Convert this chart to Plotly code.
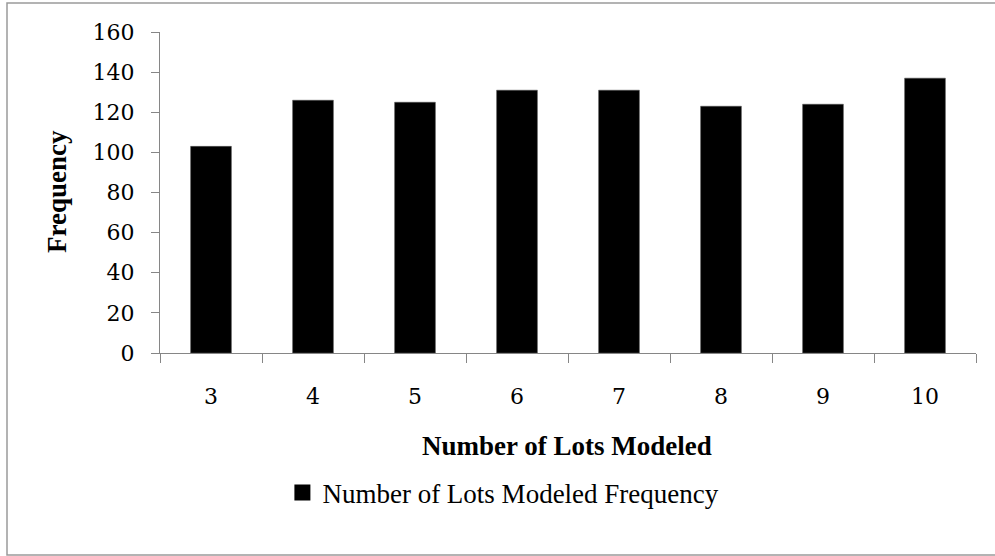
import plotly.graph_objects as go

# data
lots_modeled = ["3", "4", "5", "6", "7", "8", "9", "10"]
frequency = [103, 126, 125, 131, 131, 123, 124, 137]
series_name = "Number of Lots Modeled Frequency"

text_font = "Liberation Serif"
tick_font = "DejaVu Serif"
axis_grey = "#868686"

fig = go.Figure()
fig.add_trace(go.Bar(
    x=lots_modeled, y=frequency,
    name=series_name,
    marker=dict(color="black", line=dict(color="#555555", width=0.5)),
    showlegend=False
))
# legend entry with a larger square swatch
fig.add_trace(go.Scatter(
    x=[None], y=[None], mode="markers", name=series_name,
    marker=dict(symbol="square", size=16, color="black"),
    showlegend=True
))

fig.update_layout(
    width=995, height=556,
    margin=dict(l=160, r=19, t=32, b=203),
    plot_bgcolor="white", paper_bgcolor="white",
    bargap=0.6,
    font=dict(family=text_font, size=27, color="black"),
    showlegend=True,
    legend=dict(orientation="h", x=0.15, xanchor="left", y=-0.436, yanchor="middle",
                font=dict(family=text_font, size=27), itemwidth=30),
)

fig.update_xaxes(
    type="category", showgrid=False,
    showline=True, linecolor=axis_grey, linewidth=1,
    ticks="outside", tickson="boundaries", ticklen=9, tickcolor=axis_grey,
    tickfont=dict(family=tick_font, size=22),
    ticklabelstandoff=24,
)
fig.update_yaxes(
    range=[0, 160], dtick=20, showgrid=False, zeroline=False,
    showline=True, linecolor=axis_grey, linewidth=1,
    ticks="outside", ticklen=8, tickcolor=axis_grey,
    tickfont=dict(family=tick_font, size=22),
    ticklabelstandoff=12,
)

# axis titles
fig.add_annotation(text="<b>Number of Lots Modeled</b>", xref="paper", yref="paper",
                   x=(567 - 160) / 816, y=(353 - 446) / 321,
                   xanchor="center", yanchor="middle", showarrow=False,
                   font=dict(size=27))
fig.add_annotation(text="<b>Frequency</b>", xref="paper", yref="paper",
                   x=(57 - 160) / 816, y=(353 - 192) / 321, textangle=-90,
                   xanchor="center", yanchor="middle", showarrow=False,
                   font=dict(size=27))

# outer chart border (runs off the right edge)
fig.add_shape(type="rect", xref="paper", yref="paper",
              x0=(7 - 160) / 816, x1=(1000 - 160) / 816,
              y0=(353 - 555) / 321, y1=(353 - 3) / 321,
              line=dict(color="#9a9a9a", width=1.5))

fig.write_html("out.html", config={"displayModeBar": False},
               post_script="document.body.style.margin='0';")
